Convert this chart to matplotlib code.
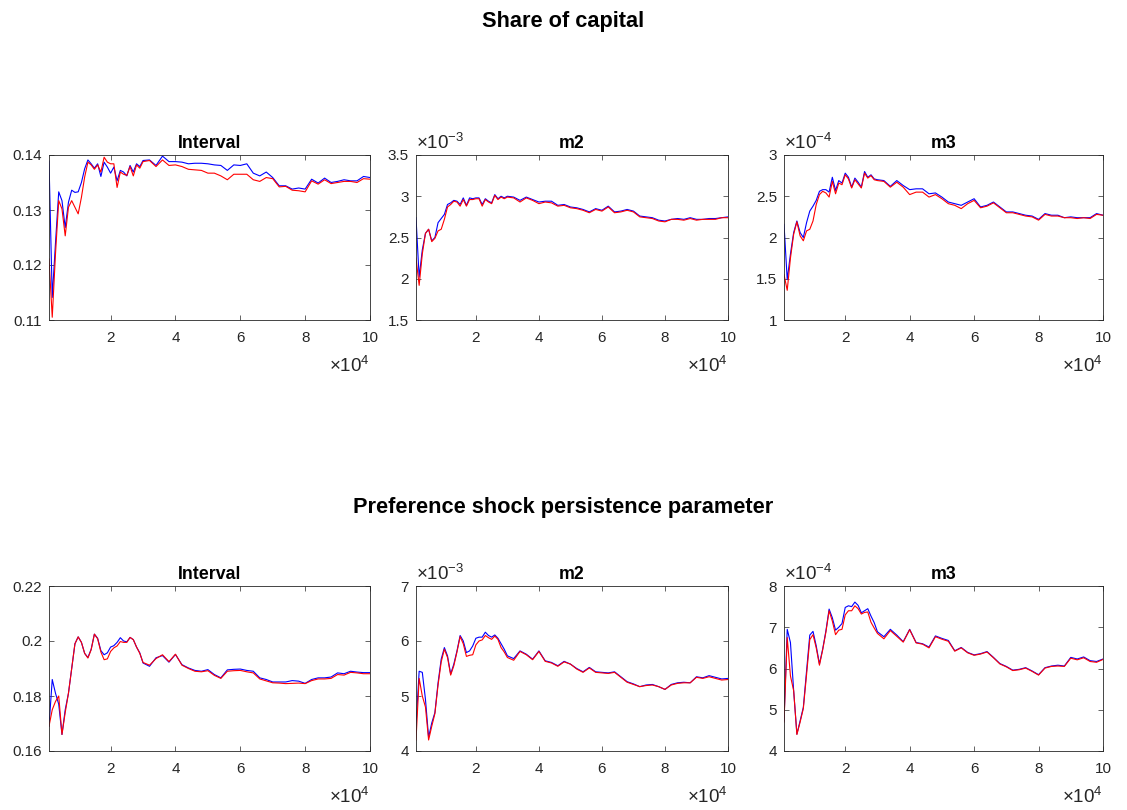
import numpy as np
import matplotlib
matplotlib.use("Agg")
import matplotlib.pyplot as plt
from matplotlib.ticker import FormatStrFormatter

plt.rcParams['font.family'] = ['Liberation Sans', 'DejaVu Sans']
plt.rcParams['mathtext.fontset'] = 'custom'
plt.rcParams['mathtext.rm'] = 'Liberation Sans'
plt.rcParams['mathtext.it'] = 'Liberation Sans:italic'
plt.rcParams['mathtext.bf'] = 'Liberation Sans:bold'

# MCMC draws at which the convergence statistics were evaluated
draws = np.r_[np.arange(1000, 30001, 1000), np.arange(32000, 100001, 2000)]

# --- Share of capital -------------------------------------------------------
cap_interval_blue = [
    .1389, .1141, .1240, .1333, .1317, .1268, .1314, .1336, .1332, .1333,
    .1350, .1375, .1391, .1384, .1376, .1384, .1361, .1387, .1378, .1367,
    .1378, .1353, .1372, .1369, .1362, .1381, .1369, .1384, .1379, .1390,
    .1391, .1381, .1398, .1388, .1388, .1387, .1384, .1385, .1385, .1384,
    .1382, .1381, .1372, .1382, .1381, .1384, .1367, .1362, .1369, .1359,
    .1344, .1344, .1338, .1340, .1338, .1356, .1349, .1358, .1350, .1352,
    .1355, .1353, .1353, .1361, .1359]
cap_interval_red = [
    .1211, .1105, .1220, .1317, .1302, .1253, .1305, .1317, .1305, .1293,
    .1323, .1360, .1387, .1382, .1374, .1382, .1369, .1396, .1387, .1384,
    .1384, .1341, .1369, .1365, .1363, .1379, .1362, .1382, .1376, .1388,
    .1390, .1379, .1391, .1381, .1382, .1379, .1374, .1373, .1372, .1367,
    .1367, .1362, .1355, .1365, .1365, .1365, .1355, .1352, .1359, .1357,
    .1342, .1343, .1336, .1335, .1333, .1353, .1347, .1355, .1348, .1350,
    .1352, .1352, .1350, .1357, .1356]

# m2 in units of 1e-3
cap_m2_blue = [
    2.74, 2.02, 2.35, 2.55, 2.60, 2.46, 2.50, 2.68, 2.73, 2.78,
    2.90, 2.92, 2.95, 2.94, 2.90, 2.98, 2.89, 2.98, 2.97, 2.98,
    2.98, 2.90, 2.97, 2.94, 2.92, 3.02, 2.97, 3.00, 2.98, 3.00,
    2.99, 2.95, 2.99, 2.96, 2.93, 2.94, 2.94, 2.89, 2.90, 2.87,
    2.86, 2.84, 2.81, 2.85, 2.83, 2.88, 2.81, 2.82, 2.84, 2.82,
    2.76, 2.75, 2.74, 2.71, 2.70, 2.72, 2.73, 2.72, 2.74, 2.72,
    2.72, 2.73, 2.73, 2.74, 2.75]
cap_m2_red = [
    2.25, 1.92, 2.30, 2.55, 2.60, 2.45, 2.49, 2.58, 2.60, 2.72,
    2.87, 2.90, 2.94, 2.93, 2.88, 2.96, 2.88, 2.96, 2.96, 2.97,
    2.97, 2.88, 2.96, 2.93, 2.91, 3.01, 2.96, 2.99, 2.97, 2.99,
    2.98, 2.93, 2.98, 2.95, 2.91, 2.93, 2.92, 2.88, 2.89, 2.86,
    2.85, 2.83, 2.80, 2.84, 2.82, 2.87, 2.80, 2.81, 2.83, 2.81,
    2.75, 2.74, 2.73, 2.70, 2.69, 2.72, 2.72, 2.71, 2.73, 2.71,
    2.72, 2.72, 2.72, 2.74, 2.74]

# m3 in units of 1e-4
cap_m3_blue = [
    2.16, 1.49, 1.80, 2.06, 2.20, 2.06, 2.00, 2.18, 2.32, 2.38,
    2.45, 2.56, 2.58, 2.58, 2.55, 2.73, 2.57, 2.69, 2.66, 2.78,
    2.73, 2.61, 2.72, 2.67, 2.61, 2.80, 2.73, 2.76, 2.71, 2.70,
    2.69, 2.62, 2.69, 2.63, 2.58, 2.59, 2.59, 2.53, 2.54, 2.49,
    2.43, 2.41, 2.39, 2.43, 2.47, 2.37, 2.39, 2.43, 2.37, 2.31,
    2.31, 2.29, 2.27, 2.26, 2.22, 2.29, 2.27, 2.27, 2.24, 2.25,
    2.24, 2.24, 2.24, 2.29, 2.27]
cap_m3_red = [
    1.55, 1.36, 1.75, 2.04, 2.19, 2.02, 1.96, 2.08, 2.10, 2.20,
    2.40, 2.52, 2.56, 2.54, 2.49, 2.68, 2.53, 2.66, 2.64, 2.76,
    2.71, 2.60, 2.70, 2.65, 2.60, 2.78, 2.72, 2.75, 2.70, 2.69,
    2.68, 2.61, 2.67, 2.61, 2.52, 2.55, 2.55, 2.49, 2.52, 2.47,
    2.41, 2.39, 2.35, 2.41, 2.45, 2.36, 2.38, 2.42, 2.36, 2.30,
    2.30, 2.28, 2.26, 2.25, 2.21, 2.28, 2.26, 2.26, 2.24, 2.24,
    2.23, 2.24, 2.23, 2.28, 2.27]

# --- Preference shock persistence parameter ---------------------------------
pref_interval_blue = [
    .1690, .1860, .1810, .1770, .1660, .1750, .1810, .1900, .1990, .2015,
    .1995, .1955, .1940, .1970, .2025, .2010, .1965, .1950, .1957, .1978,
    .1983, .1995, .2012, .2000, .1997, .2013, .2005, .1978, .1957, .1920,
    .1908, .1939, .1947, .1923, .1951, .1914, .1902, .1893, .1890, .1896,
    .1878, .1866, .1895, .1897, .1898, .1893, .1890, .1866, .1860, .1851,
    .1851, .1851, .1856, .1854, .1846, .1860, .1866, .1866, .1869, .1884,
    .1881, .1890, .1887, .1885, .1885]
pref_interval_red = [
    .1690, .1750, .1780, .1800, .1660, .1740, .1810, .1900, .1990, .2015,
    .1995, .1955, .1938, .1968, .2025, .2008, .1960, .1932, .1935, .1962,
    .1975, .1982, .1998, .1995, .1995, .2013, .2005, .1978, .1955, .1922,
    .1912, .1936, .1950, .1925, .1952, .1912, .1900, .1890, .1888, .1892,
    .1875, .1864, .1890, .1892, .1893, .1888, .1884, .1862, .1855, .1848,
    .1847, .1845, .1846, .1847, .1845, .1856, .1862, .1862, .1864, .1878,
    .1876, .1886, .1884, .1881, .1881]

# m2 in units of 1e-3
pref_m2_blue = [
    4.45, 5.45, 5.43, 4.94, 4.25, 4.51, 4.70, 5.24, 5.67, 5.88,
    5.73, 5.40, 5.58, 5.82, 6.10, 6.00, 5.79, 5.82, 5.91, 6.05,
    6.07, 6.07, 6.16, 6.10, 6.07, 6.11, 6.05, 5.95, 5.85, 5.73,
    5.68, 5.82, 5.76, 5.67, 5.82, 5.64, 5.61, 5.55, 5.63, 5.58,
    5.50, 5.44, 5.52, 5.44, 5.43, 5.42, 5.44, 5.35, 5.26, 5.22,
    5.17, 5.20, 5.21, 5.17, 5.12, 5.21, 5.24, 5.25, 5.24, 5.35,
    5.33, 5.37, 5.34, 5.31, 5.32]
pref_m2_red = [
    4.20, 5.32, 5.00, 4.80, 4.20, 4.45, 4.68, 5.20, 5.62, 5.85,
    5.70, 5.38, 5.55, 5.80, 6.08, 5.95, 5.72, 5.74, 5.75, 5.93,
    6.00, 6.02, 6.10, 6.06, 6.03, 6.09, 6.03, 5.88, 5.80, 5.70,
    5.65, 5.81, 5.75, 5.66, 5.81, 5.63, 5.60, 5.54, 5.62, 5.58,
    5.49, 5.43, 5.51, 5.43, 5.42, 5.41, 5.43, 5.34, 5.25, 5.21,
    5.17, 5.19, 5.20, 5.17, 5.12, 5.20, 5.23, 5.24, 5.24, 5.34,
    5.32, 5.35, 5.32, 5.29, 5.30]

# m3 in units of 1e-4
pref_m3_blue = [
    4.73, 6.95, 6.63, 5.46, 4.41, 4.73, 5.06, 5.94, 6.81, 6.90,
    6.55, 6.11, 6.47, 6.91, 7.44, 7.23, 6.93, 7.00, 7.09, 7.48,
    7.52, 7.50, 7.61, 7.53, 7.35, 7.40, 7.45, 7.27, 7.11, 6.89,
    6.77, 6.95, 6.81, 6.65, 6.95, 6.63, 6.60, 6.52, 6.79, 6.73,
    6.68, 6.43, 6.51, 6.39, 6.33, 6.36, 6.41, 6.27, 6.12, 6.05,
    5.96, 5.98, 6.02, 5.94, 5.85, 6.02, 6.06, 6.08, 6.06, 6.27,
    6.23, 6.28, 6.19, 6.17, 6.23]
pref_m3_red = [
    4.70, 6.75, 5.82, 5.46, 4.40, 4.70, 5.03, 5.85, 6.70, 6.82,
    6.50, 6.08, 6.45, 6.88, 7.40, 7.15, 6.82, 6.93, 6.95, 7.30,
    7.40, 7.40, 7.52, 7.45, 7.32, 7.36, 7.37, 7.12, 6.98, 6.85,
    6.72, 6.92, 6.78, 6.64, 6.94, 6.62, 6.59, 6.50, 6.77, 6.71,
    6.66, 6.42, 6.50, 6.38, 6.32, 6.35, 6.40, 6.26, 6.11, 6.04,
    5.95, 5.97, 6.01, 5.93, 5.84, 6.01, 6.05, 6.06, 6.05, 6.25,
    6.21, 6.26, 6.17, 6.15, 6.22]

W, H = 1127, 810
fig = plt.figure(figsize=(W / 100, H / 100), dpi=100)

# axes boxes in pixels: (left, right) per column, (top, bottom) per row
cols = [(49, 370), (416, 728), (784, 1103)]
rows = [(155, 320), (586, 751)]

panels = [
    (0, 0, 'Interval', cap_interval_blue, cap_interval_red, (0.11, 0.14), [0.11, 0.12, 0.13, 0.14], None),
    (0, 1, 'm2', cap_m2_blue, cap_m2_red, (1.5, 3.5), [1.5, 2, 2.5, 3, 3.5], -3),
    (0, 2, 'm3', cap_m3_blue, cap_m3_red, (1, 3), [1, 1.5, 2, 2.5, 3], -4),
    (1, 0, 'Interval', pref_interval_blue, pref_interval_red, (0.16, 0.22), [0.16, 0.18, 0.2, 0.22], None),
    (1, 1, 'm2', pref_m2_blue, pref_m2_red, (4, 7), [4, 5, 6, 7], -3),
    (1, 2, 'm3', pref_m3_blue, pref_m3_red, (4, 8), [4, 5, 6, 7, 8], -4),
]

ink = '#262626'
x = draws / 1e4

for r, c, title, blue, red, ylim, yticks, exp in panels:
    left, right = cols[c]
    top, bottom = rows[r]
    ax = fig.add_axes([left / W, 1 - bottom / H, (right - left) / W, (bottom - top) / H])
    ax.plot(x, blue, color='blue', lw=0.8)
    ax.plot(x, red, color='red', lw=0.8)
    ax.set_xlim(0.1, 10)
    ax.set_ylim(*ylim)
    ax.set_xticks([2, 4, 6, 8, 10])
    ax.set_yticks(yticks)
    ax.xaxis.set_major_formatter(FormatStrFormatter('%g'))
    ax.yaxis.set_major_formatter(FormatStrFormatter('%g'))
    ax.tick_params(direction='in', top=True, right=True, length=3.5, width=0.5,
                   colors=ink, labelsize=11)
    ax.tick_params(axis='x', pad=8)
    ax.tick_params(axis='y', pad=5)
    for sp in ax.spines.values():
        sp.set_color(ink)
        sp.set_linewidth(0.6)
    ax.set_title(title, fontsize=12.8, fontweight='bold', pad=5)
    ax.text(1.0, -0.28, r'$\mathregular{\times10^{4}}$', transform=ax.transAxes,
            ha='right', va='center', fontsize=13.5, color=ink)
    if exp is not None:
        ax.text(0.0, 1.01, r'$\mathregular{\times10^{%d}}$' % exp, transform=ax.transAxes,
                ha='left', va='bottom', fontsize=13.5, color=ink)

fig.text(0.5, 1 - 21 / H, 'Share of capital', ha='center', va='center',
         fontsize=15.7, fontweight='bold')
fig.text(0.5, 1 - 508 / H, 'Preference shock persistence parameter', ha='center',
         va='center', fontsize=15.7, fontweight='bold')

fig.savefig('out.png', dpi=100)
